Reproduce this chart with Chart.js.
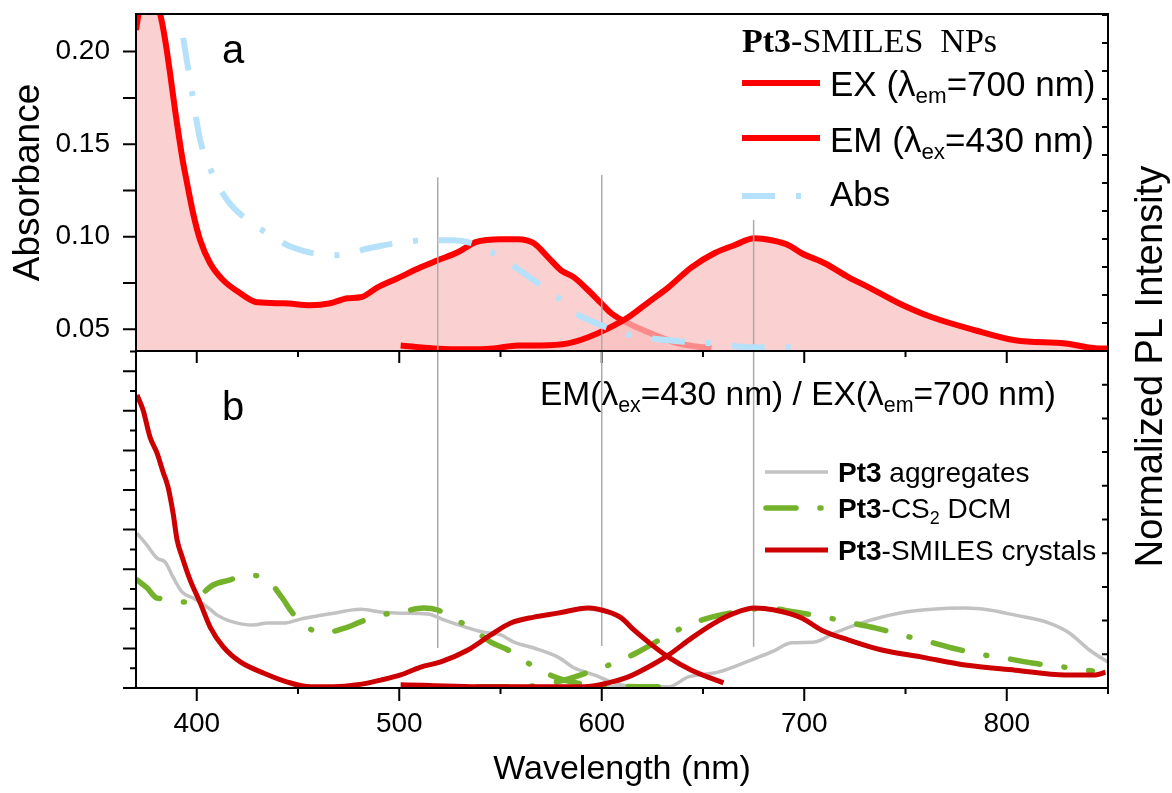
<!DOCTYPE html>
<html><head><meta charset="utf-8">
<script src="https://cdn.jsdelivr.net/npm/chart.js"></script>
<style>
html,body{margin:0;padding:0;background:#fff;}
#wrap{position:relative;width:1172px;height:793px;background:#fff;}
#wrap canvas{position:absolute;left:0;top:0;}
</style></head><body>
<div id="wrap"><canvas id="ca" width="1172" height="793"></canvas><canvas id="cb" width="1172" height="793"></canvas></div>
<script>
// ---------- axis ranges & tick labels ----------
const xRange = [370, 850];
const xMajorTicks = [400, 500, 600, 700, 800];
const xMinorTicks = [450, 550, 650, 750, 850];
const absRange = [0.0383, 0.2203];
const absTicks = [0.05, 0.10, 0.15, 0.20];
const absMinorTicks = [0.075, 0.125, 0.175];
const plRangeA = [0, 12.04];
const plTicksA = [0, 1, 2, 3, 4, 5, 6, 7, 8, 9, 10, 11, 12];
const bRange = [0, 8.51];
const bMajorTicks = [0, 1, 2, 3, 4, 5, 6, 7, 8];
const bMinorTicks = [0.5, 1.5, 2.5, 3.5, 4.5, 5.5, 6.5, 7.5, 8.5];
const plRangeB = [0, 10];
const plTicksB = [0, 1, 2, 3, 4, 5, 6, 7, 8, 9, 10];

// ---------- panel a ----------
const exA_wl  = [370, 372.5, 377, 381.9, 384.4, 386.8, 389.3, 392.8, 395.2, 398.2, 401.7, 406.6, 413.1, 421.5, 429.9, 442.8, 456.1, 466.0, 474.5, 480.9, 489.3, 499.2, 510.6, 519.0, 528.9, 537.8, 550.2, 558.6, 566.5, 573.5, 579.9, 586.3, 593.3, 599.7, 604.7, 613.1, 624.5, 637.8, 654.2];
const exA_val = [0.2117, 0.228, 0.234, 0.2204, 0.2063, 0.1885, 0.1684, 0.1430, 0.1290, 0.1127, 0.0981, 0.0857, 0.0765, 0.0695, 0.0646, 0.0641, 0.0630, 0.0641, 0.0668, 0.0673, 0.0727, 0.0776, 0.0835, 0.0873, 0.0916, 0.0971, 0.0987, 0.0987, 0.0965, 0.0889, 0.0819, 0.0781, 0.0711, 0.0641, 0.0587, 0.0532, 0.0478, 0.0424, 0.0397];
const emA_wl  = [500.7, 517.0, 533.9, 546.7, 558.6, 570.0, 583.4, 593.3, 603.2, 613.1, 623.0, 632.9, 644.3, 655.6, 665.5, 675.4, 683.9, 692.3, 698.7, 710.1, 722.0, 731.9, 746.7, 763.1, 784.4, 804.2, 828.9, 845.7, 851.7];
const emA_val = [0.0413, 0.0397, 0.0392, 0.0397, 0.0413, 0.0413, 0.0424, 0.0457, 0.0505, 0.0565, 0.0646, 0.0727, 0.0835, 0.0911, 0.0954, 0.0992, 0.0981, 0.0954, 0.0911, 0.0857, 0.0781, 0.0727, 0.0641, 0.0565, 0.0495, 0.0441, 0.0424, 0.0397, 0.0397];
const abs_wl  = [393.3, 397.7, 401.7, 407.6, 415.0, 425.0, 434.9, 447.2, 467.5, 487.3, 500.7, 514.1, 526.9, 538.8, 553.7, 565.0, 578.4, 584.9, 596.2, 613.1, 632.9, 654.2, 674.0, 701.2];
const abs_val = [0.2074, 0.1776, 0.1522, 0.1344, 0.1198, 0.1090, 0.1019, 0.0943, 0.0900, 0.0943, 0.0970, 0.0981, 0.0981, 0.0954, 0.0862, 0.0776, 0.0673, 0.0603, 0.0538, 0.0473, 0.0441, 0.0424, 0.0403, 0.0403];

// vertical guide lines
const guideWl   = [519, 600, 675];
const guideTopA = [0.1322, 0.1333, 0.1090];
const guideBotB = [1.01, 1.06, 1.04];

// ---------- panel b ----------
const crEX_wl  = [370.5, 373.5, 376.9, 380.4, 383.4, 385.8, 388.3, 390.3, 392.8, 396.7, 401.7, 406.6, 413.1, 421.5, 432.9, 444.8, 456.1, 467.5, 479.4, 490.8, 500.7, 510.6, 520.5, 533.9, 545.2, 555.1, 566.5, 578.4, 593.3, 603.2, 609.6, 616.0, 623.0, 632.9, 644.3, 660.1];
const crEX_val = [7.40, 7.02, 6.34, 5.93, 5.45, 5.08, 4.42, 3.74, 3.31, 2.73, 2.15, 1.54, 1.04, 0.66, 0.38, 0.15, 0.03, 0.03, 0.08, 0.20, 0.33, 0.53, 0.66, 0.96, 1.34, 1.64, 1.79, 1.89, 2.02, 1.92, 1.77, 1.46, 1.16, 0.78, 0.45, 0.13];
const crEM_wl  = [500.7, 550.2, 591.3, 603.2, 613.1, 623.0, 632.9, 644.3, 655.6, 665.5, 675.4, 685.3, 698.7, 708.6, 722.0, 738.3, 758.1, 779.4, 804.2, 828.9, 843.8, 848.7];
const crEM_val = [0.08, 0.03, 0.03, 0.13, 0.28, 0.53, 0.83, 1.26, 1.64, 1.89, 2.02, 1.97, 1.77, 1.46, 1.21, 0.96, 0.78, 0.58, 0.45, 0.33, 0.33, 0.40];
const agEX_wl  = [370.5, 375.4, 380.4, 384.4, 388.3, 392.8, 398.2, 405.1, 410.1, 416.5, 427.9, 434.9, 442.8, 451.2, 459.6, 467.5, 480.9, 490.8, 500.7, 514.1, 522.0, 533.9, 541.8, 550.2, 556.6, 566.5, 578.4, 586.3, 596.2, 606.1, 616.0, 626.0];
const agEX_val = [3.91, 3.61, 3.28, 3.18, 2.80, 2.42, 2.27, 2.05, 1.84, 1.69, 1.59, 1.64, 1.64, 1.74, 1.82, 1.89, 1.99, 1.92, 1.89, 1.87, 1.72, 1.52, 1.41, 1.34, 1.16, 1.01, 0.78, 0.51, 0.33, 0.13, 0.03, 0.00];
const agEM_wl  = [538.8, 599.7, 632.9, 642.8, 657.6, 674.0, 683.9, 693.8, 705.1, 715.0, 729.9, 746.7, 763.1, 779.4, 791.3, 804.2, 821.0, 830.9, 840.8, 850.7];
const agEM_val = [0.05, 0.03, 0.03, 0.28, 0.40, 0.71, 0.91, 1.14, 1.16, 1.39, 1.67, 1.89, 1.99, 2.02, 1.97, 1.84, 1.64, 1.39, 0.96, 0.63];
const csEX_wl  = [370.5, 375.4, 380.4, 385.3, 393.3, 401.7, 408.1, 416.5, 423.0, 432.9, 442.3, 446.2, 451.2, 462.1, 473.5, 480.9, 490.8, 500.7, 512.1, 519.0, 525.4, 535.3, 545.2, 553.7, 561.1, 571.5, 581.4, 591.3, 608.1, 624.5, 637.8];
const csEX_val = [2.73, 2.53, 2.27, 2.25, 2.17, 2.35, 2.60, 2.73, 2.85, 2.80, 2.27, 1.97, 1.67, 1.39, 1.52, 1.67, 1.84, 1.92, 2.02, 1.97, 1.79, 1.52, 1.16, 0.96, 0.71, 0.40, 0.20, 0.10, 0.05, 0.03, 0.03];
const csEM_wl  = [538.8, 558.6, 570.0, 581.4, 596.2, 606.1, 618.0, 632.9, 642.8, 654.2, 672.5, 680.4, 695.3, 712.1, 723.5, 734.8, 751.7, 762.1, 773.0, 789.3, 801.7, 812.6, 830.9, 842.3];
const csEM_val = [0.03, 0.03, 0.08, 0.20, 0.45, 0.63, 0.91, 1.34, 1.59, 1.79, 1.97, 2.02, 1.92, 1.77, 1.64, 1.52, 1.29, 1.16, 1.01, 0.83, 0.73, 0.63, 0.51, 0.43];

// ---------- labels ----------
const seriesLabelsA = ['EX (λem=700 nm)', 'EM (λex=430 nm)', 'Abs'];
const seriesLabelsB = ['Pt3 aggregates', 'Pt3-CS2 DCM', 'Pt3-SMILES crystals'];

// ---------- styles ----------
const SANS = "'Liberation Sans', Arial, Helvetica, sans-serif";
const SERIF = "'Liberation Serif', 'Times New Roman', serif";
const RED = '#ff0000', PINK = 'rgba(250,191,191,0.73)', BLUE = '#b5e1fa';
const DARKRED = '#cc0000', GREY = '#c2c2c2', GREEN = '#74b22c', GUIDE = '#ababab';
const ABS_DASH = [33, 21, 5, 21], GREEN_DASH = [30, 24, 1, 24];

Chart.defaults.font.family = SANS;
Chart.defaults.color = '#000';

const pts = (xs, ys) => xs.map((x, i) => ({x: x, y: ys[i]}));
const fix = (w, h) => s => {
  if (w !== null) s.width = w;
  if (h !== null) s.height = h;
  s.paddingTop = 0; s.paddingBottom = 0; s.paddingLeft = 0; s.paddingRight = 0;
};
const setTicks = arr => s => { s.ticks = arr.map(v => ({value: v})); };

function drawRich(ctx, x, y, segs, size, family) {
  let cx = x;
  ctx.textBaseline = 'alphabetic'; ctx.textAlign = 'left'; ctx.fillStyle = '#000';
  for (const s of segs) {
    const fs = s.sub ? size * 0.64 : size;
    ctx.font = (s.bold ? 'bold ' : '') + fs + 'px ' + family;
    ctx.fillText(s.t, cx, y + (s.sub ? size * 0.21 : 0));
    cx += ctx.measureText(s.t).width;
  }
  return cx;
}
function sample(ctx, x1, x2, y, ds) {
  ctx.save();
  ctx.strokeStyle = ds.borderColor; ctx.lineWidth = ds.borderWidth;
  ctx.lineCap = ds.borderCapStyle || 'butt';
  ctx.setLineDash(ds.borderDash || []);
  ctx.beginPath(); ctx.moveTo(x1, y); ctx.lineTo(x2, y); ctx.stroke();
  ctx.restore();
}
function frameTicks(chart, spec) {
  const ctx = chart.ctx, a = chart.chartArea;
  ctx.save();
  ctx.strokeStyle = '#000'; ctx.lineWidth = 2; ctx.setLineDash([]);
  ctx.beginPath();
  for (const t of spec) {
    const sc = chart.scales[t.id];
    for (const v of t.values) {
      const p = sc.getPixelForValue(v);
      if (t.side === 'bottom') { ctx.moveTo(p, a.bottom); ctx.lineTo(p, a.bottom + t.len); }
      else if (t.side === 'left') { ctx.moveTo(a.left, p); ctx.lineTo(a.left - t.len, p); }
      else { ctx.moveTo(a.right, p); ctx.lineTo(a.right - t.len, p); }
    }
  }
  ctx.stroke();
  ctx.strokeRect(a.left, a.top, a.right - a.left, a.bottom - a.top);
  ctx.restore();
}

const baseLine = {pointRadius: 0, cubicInterpolationMode: 'monotone', borderJoinStyle: 'round'};
const guideSet = (tops, bots) => guideWl.map((w, i) => ({
  label: 'guide', data: [{x: w, y: tops[i]}, {x: w, y: bots[i]}],
  borderColor: GUIDE, borderWidth: 1.5, pointRadius: 0, tension: 0, fill: false, order: 3
}));

// ---------------- chart A ----------------
const decorA = {
  id: 'decorA',
  afterDatasetsDraw(chart) {
    frameTicks(chart, [
      {id: 'x', side: 'bottom', values: xMajorTicks, len: 12},
      {id: 'x', side: 'bottom', values: xMinorTicks, len: 6},
      {id: 'y', side: 'left', values: absTicks.concat(absMinorTicks), len: 13},
      {id: 'yR', side: 'right', values: plTicksA, len: 6}
    ]);
    const ctx = chart.ctx, ds = chart.data.datasets;
    ctx.save();
    ctx.fillStyle = '#000'; ctx.font = '40px ' + SANS; ctx.textBaseline = 'alphabetic';
    ctx.fillText('a', 222, 63);
    drawRich(ctx, 742, 52, [{t: 'Pt3', bold: true}, {t: '-SMILES  NPs'}], 34, SERIF);
    sample(ctx, 742, 820, 83, ds[0]);
    drawRich(ctx, 830, 96, [{t: 'EX (λ'}, {t: 'em', sub: true}, {t: '=700 nm)'}], 35, SANS);
    sample(ctx, 742, 820, 138, ds[1]);
    drawRich(ctx, 830, 152, [{t: 'EM (λ'}, {t: 'ex', sub: true}, {t: '=430 nm)'}], 35, SANS);
    sample(ctx, 742, 820, 196, ds[ds.length - 1]);
    drawRich(ctx, 830, 206, [{t: 'Abs'}], 35, SANS);
    ctx.restore();
  }
};

new Chart(document.getElementById('ca'), {
  type: 'line',
  data: {datasets: [
    Object.assign({label: seriesLabelsA[0], data: pts(exA_wl, exA_val), borderColor: RED, borderWidth: 6,
      fill: 'start', backgroundColor: PINK, order: 5, clip: 0}, baseLine),
    Object.assign({label: seriesLabelsA[1], data: pts(emA_wl, emA_val), borderColor: RED, borderWidth: 6,
      fill: 'start', backgroundColor: PINK, order: 4, clip: 0}, baseLine),
    ...guideSet(guideTopA, [0, 0, 0]),
    Object.assign({label: seriesLabelsA[2], data: pts(abs_wl, abs_val), borderColor: BLUE, borderWidth: 6,
      borderDash: ABS_DASH, borderCapStyle: 'butt', fill: false, order: 1, clip: 0}, baseLine)
  ]},
  options: {
    responsive: false, animation: false, events: [],
    layout: {padding: {top: 14, bottom: 442, left: 0, right: 0}},
    plugins: {legend: {display: false}, tooltip: {enabled: false}},
    scales: {
      x: {type: 'linear', min: xRange[0], max: xRange[1], ticks: {display: false},
        grid: {display: false}, border: {display: false}, afterFit: fix(null, 0)},
      y: {type: 'linear', position: 'left', min: absRange[0], max: absRange[1],
        afterBuildTicks: setTicks(absTicks),
        ticks: {callback: v => Number(v).toFixed(2), font: {size: 28}, color: '#000', padding: 13},
        grid: {display: false, tickLength: 13}, border: {display: false},
        title: {display: true, text: 'Absorbance', font: {size: 37}, color: '#000', padding: {top: 7, bottom: 0}},
        afterFit: fix(136, null)},
      yR: {type: 'linear', position: 'right', min: plRangeA[0], max: plRangeA[1],
        ticks: {display: false}, grid: {display: false}, border: {display: false}, afterFit: fix(64, null)}
    }
  },
  plugins: [decorA]
});

// ---------------- chart B ----------------
const decorB = {
  id: 'decorB',
  afterDatasetsDraw(chart) {
    frameTicks(chart, [
      {id: 'x', side: 'bottom', values: xMajorTicks, len: 13},
      {id: 'x', side: 'bottom', values: xMinorTicks, len: 6},
      {id: 'y', side: 'left', values: bMajorTicks, len: 13},
      {id: 'y', side: 'left', values: bMinorTicks, len: 6},
      {id: 'yR', side: 'right', values: plTicksB, len: 6}
    ]);
    const ctx = chart.ctx, ds = chart.data.datasets;
    const find = l => ds.find(d => d.label === l);
    ctx.save();
    ctx.fillStyle = '#000'; ctx.font = '40px ' + SANS; ctx.textBaseline = 'alphabetic';
    ctx.fillText('b', 222, 420);
    drawRich(ctx, 540, 405, [{t: 'EM(λ'}, {t: 'ex', sub: true}, {t: '=430 nm) / EX(λ'}, {t: 'em', sub: true}, {t: '=700 nm)'}], 33.5, SANS);
    sample(ctx, 765, 828, 472, find(seriesLabelsB[0]));
    drawRich(ctx, 838, 482, [{t: 'Pt3', bold: true}, {t: ' aggregates'}], 28, SANS);
    sample(ctx, 766, 826, 508, find(seriesLabelsB[1]));
    drawRich(ctx, 838, 518, [{t: 'Pt3', bold: true}, {t: '-CS'}, {t: '2', sub: true}, {t: ' DCM'}], 28, SANS);
    sample(ctx, 765, 828, 550, find(seriesLabelsB[2]));
    drawRich(ctx, 838, 560, [{t: 'Pt3', bold: true}, {t: '-SMILES crystals'}], 28, SANS);
    // shared right-hand axis title
    ctx.translate(1162, 366.5); ctx.rotate(-Math.PI / 2);
    ctx.font = '38px ' + SANS; ctx.textAlign = 'center'; ctx.textBaseline = 'alphabetic';
    ctx.fillText('Normalized PL Intensity', 0, 0);
    ctx.restore();
  }
};

new Chart(document.getElementById('cb'), {
  type: 'line',
  data: {datasets: [
    ...guideSet([20, 20, 20], guideBotB).map(d => Object.assign(d, {order: 10})),
    Object.assign({label: seriesLabelsB[0], data: pts(agEX_wl, agEX_val), borderColor: GREY, borderWidth: 3.5, fill: false, order: 7}, baseLine),
    Object.assign({label: seriesLabelsB[0] + ' EM', data: pts(agEM_wl, agEM_val), borderColor: GREY, borderWidth: 3.5, fill: false, order: 7}, baseLine),
    Object.assign({label: seriesLabelsB[1], data: pts(csEX_wl, csEX_val), borderColor: GREEN, borderWidth: 5.5,
      borderDash: GREEN_DASH, borderCapStyle: 'round', fill: false, order: 6}, baseLine),
    Object.assign({label: seriesLabelsB[1] + ' EM', data: pts(csEM_wl, csEM_val), borderColor: GREEN, borderWidth: 5.5,
      borderDash: GREEN_DASH, borderCapStyle: 'round', fill: false, order: 6}, baseLine),
    Object.assign({label: seriesLabelsB[2], data: pts(crEX_wl, crEX_val), borderColor: DARKRED, borderWidth: 5, fill: false, order: 5}, baseLine),
    Object.assign({label: seriesLabelsB[2] + ' EM', data: pts(crEM_wl, crEM_val), borderColor: DARKRED, borderWidth: 5, fill: false, order: 5}, baseLine)
  ]},
  options: {
    responsive: false, animation: false, events: [],
    layout: {padding: {top: 351, bottom: 0, left: 0, right: 0}},
    plugins: {legend: {display: false}, tooltip: {enabled: false}},
    scales: {
      x: {type: 'linear', min: xRange[0], max: xRange[1], afterBuildTicks: setTicks(xMajorTicks),
        ticks: {font: {size: 28}, color: '#000', padding: 6, autoSkip: false, maxRotation: 0},
        grid: {display: false, tickLength: 13}, border: {display: false},
        title: {display: true, text: 'Wavelength (nm)', font: {size: 34}, color: '#000', padding: {top: 0, bottom: 3}},
        afterFit: fix(null, 105)},
      y: {type: 'linear', position: 'left', min: bRange[0], max: bRange[1], ticks: {display: false},
        grid: {display: false}, border: {display: false}, afterFit: fix(136, null)},
      yR: {type: 'linear', position: 'right', min: plRangeB[0], max: plRangeB[1], ticks: {display: false},
        grid: {display: false}, border: {display: false}, afterFit: fix(64, null)}
    }
  },
  plugins: [decorB]
});
</script>
</body></html>
